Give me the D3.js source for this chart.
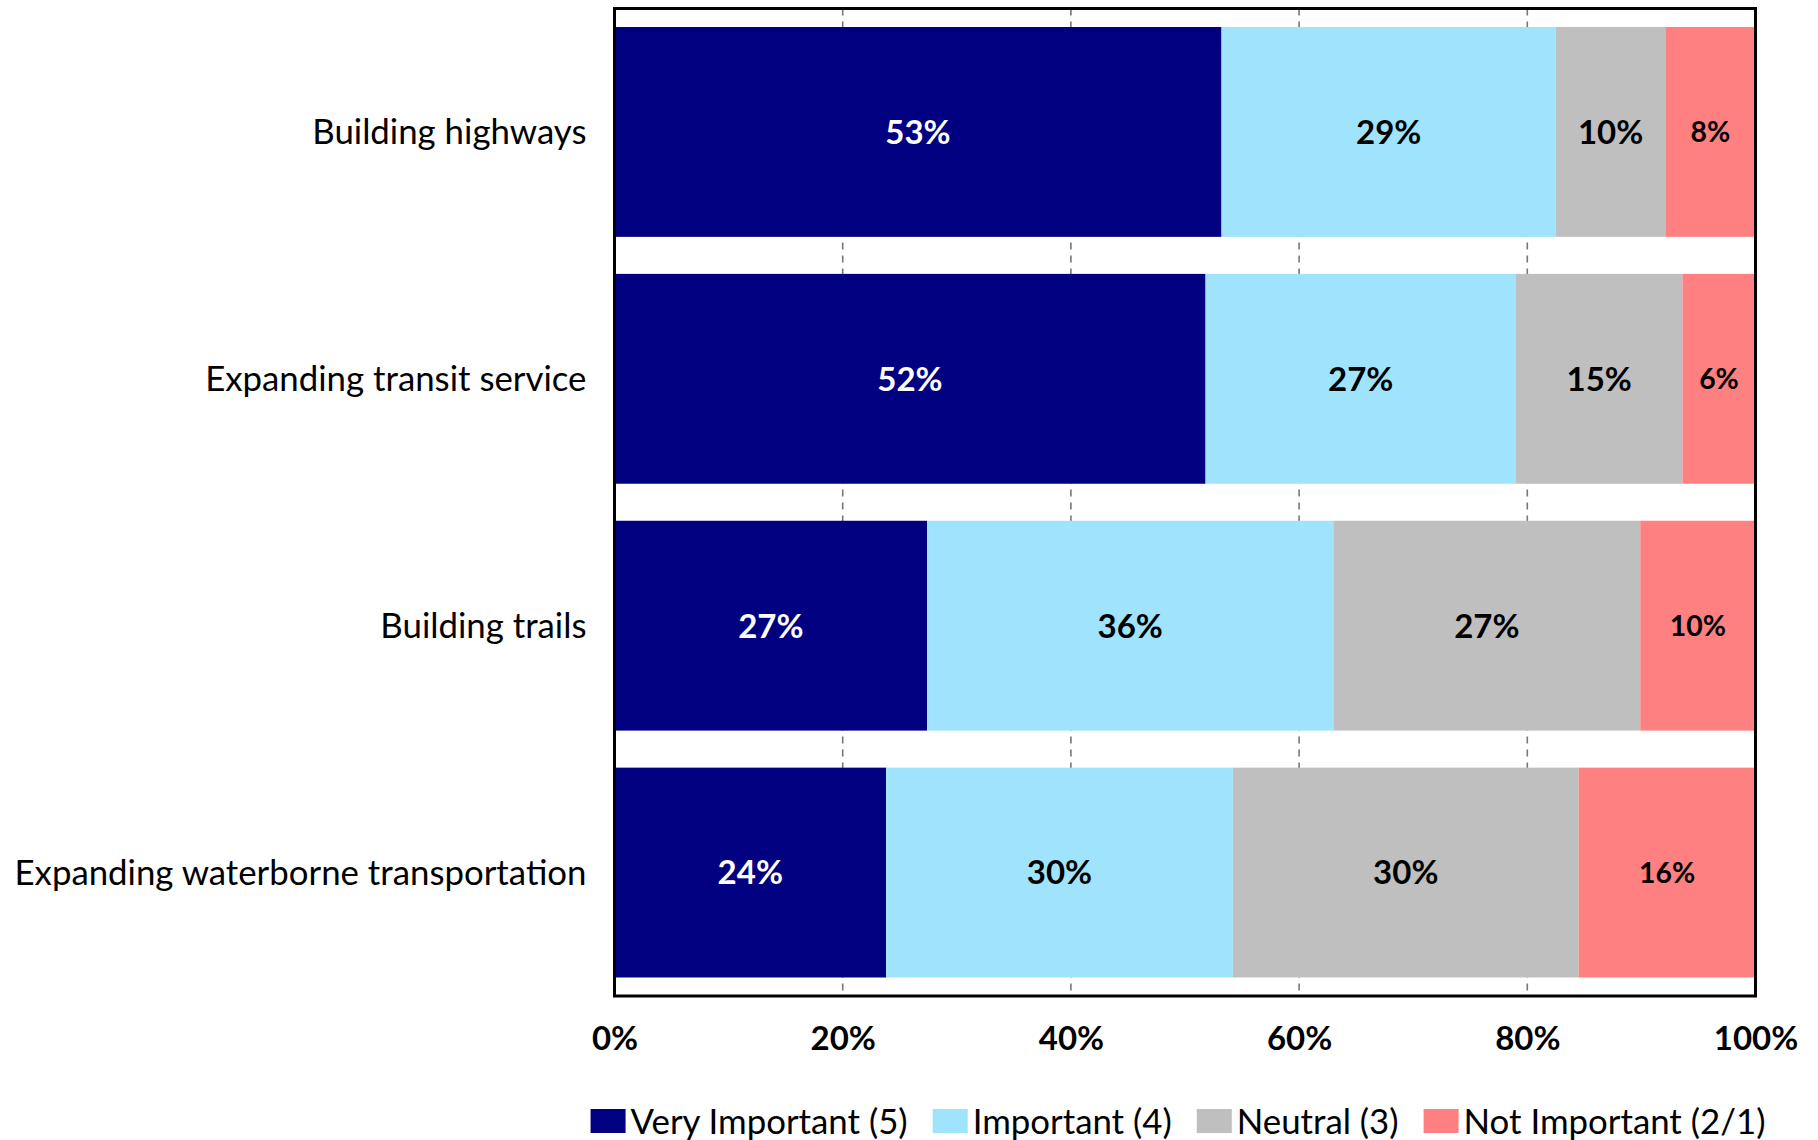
<!DOCTYPE html>
<html>
<head>
<meta charset="utf-8">
<script src="https://cdn.jsdelivr.net/npm/d3@7"></script>
<style>
    body { margin: 0; background: #fff; }
    text { font-family: Lato, "Open Sans", sans-serif; }
</style>
</head>
<body>
<div id="chart"></div>
<script>

var categories = ["Building highways", "Expanding transit service", "Building trails", "Expanding waterborne transportation"];
var seriesNames = ["Very Important (5)", "Important (4)", "Neutral (3)", "Not Important (2/1)"];

// percent per category
var veryImportant = [53.2, 51.8, 27.4, 23.8];
var important = [29.3, 27.2, 35.6, 30.4];
var neutral = [9.6, 14.6, 26.9, 30.3];
var notImportant = [7.9, 6.4, 10.1, 15.5];

var xTicks = [0, 20, 40, 60, 80, 100];
var colors = ["#000080", "#9fe4fc", "#bfbfbf", "#ff8080"];

var width = 1818, height = 1140;
var plot = {left: 614.5, right: 1755.5, top: 8.5, bottom: 996};
var fontSize = 33;      // bold numbers
var labelSize = 34.8;   // regular text

var rows = categories.map(function (c, i) {
    return {
        name: c,
        s0: veryImportant[i],
        s1: important[i],
        s2: neutral[i],
        s3: notImportant[i]
    };
});
var keys = ["s0", "s1", "s2", "s3"];

var stacked = d3.stack().keys(keys)(rows);

var xScale = d3.scaleLinear().domain([0, 100]).range([plot.left, plot.right]);
var yScale = d3.scaleBand()
    .domain(categories)
    .range([plot.top, plot.bottom])
    .paddingInner(0.15)
    .paddingOuter(0.075);

var svg = d3.select("#chart")
    .append("svg")
    .attr("width", width)
    .attr("height", height);

// dashed grid behind the bars
svg.append("g")
    .attr("class", "grid")
    .selectAll("line")
    .data(xTicks.slice(1, -1))
    .enter()
    .append("line")
    .attr("x1", function (d) { return xScale(d); })
    .attr("x2", function (d) { return xScale(d); })
    .attr("y1", plot.top)
    .attr("y2", plot.bottom)
    .attr("stroke", "#777")
    .attr("stroke-width", 1.6)
    .attr("stroke-dasharray", "7,6");

var layer = svg.selectAll("g.layer")
    .data(stacked)
    .enter()
    .append("g")
    .attr("class", "layer")
    .attr("fill", function (d, i) { return colors[i]; });

layer.selectAll("rect")
    .data(function (d) { return d; })
    .enter()
    .append("rect")
    .attr("x", function (d) { return xScale(d[0]); })
    .attr("y", function (d) { return yScale(d.data.name); })
    .attr("width", function (d) { return xScale(d[1]) - xScale(d[0]); })
    .attr("height", yScale.bandwidth());

// value labels
stacked.forEach(function (s, i) {
    svg.append("g")
        .selectAll("text")
        .data(s)
        .enter()
        .append("text")
        .attr("x", function (d) { return (xScale(d[0]) + xScale(d[1])) / 2; })
        .attr("y", function (d) { return yScale(d.data.name) + yScale.bandwidth() / 2; })
        .attr("dy", "0.36em")
        .attr("text-anchor", "middle")
        .style("font-weight", "bold")
        .style("font-size", (i === 3 ? fontSize * 0.86 : fontSize) + "px")
        .attr("fill", i === 0 ? "#fff" : "#000")
        .text(function (d) { return Math.round(d[1] - d[0]) + "%"; });
});

// category labels
svg.append("g")
    .selectAll("text")
    .data(categories)
    .enter()
    .append("text")
    .attr("x", plot.left - 28)
    .attr("y", function (d) { return yScale(d) + yScale.bandwidth() / 2; })
    .attr("dy", "0.36em")
    .attr("text-anchor", "end")
    .style("font-size", labelSize + "px")
    .attr("fill", "#000")
    .text(function (d) { return d; });

// x axis labels
var xAxis = d3.axisBottom(xScale)
    .tickValues(xTicks)
    .tickSize(0)
    .tickPadding(0)
    .tickFormat(function (d) { return d + "%"; });

var xAxisG = svg.append("g")
    .attr("class", "x axis")
    .attr("transform", "translate(0," + 1038 + ")")
    .call(xAxis);

xAxisG.select("path.domain").remove();
xAxisG.selectAll("text")
    .attr("y", 0)
    .attr("dy", "0.36em")
    .style("font-family", "Lato, sans-serif")
    .style("font-size", fontSize + "px")
    .style("font-weight", "bold")
    .attr("fill", "#000");

// plot frame
svg.append("rect")
    .attr("x", plot.left)
    .attr("y", plot.top)
    .attr("width", plot.right - plot.left)
    .attr("height", plot.bottom - plot.top)
    .attr("fill", "none")
    .attr("stroke", "#000")
    .attr("stroke-width", 3);

// legend, laid out from measured text widths
var legend = svg.append("g").attr("class", "legend");
var legendY = 1121;
var sw = 35, sh = 24, textGap = 5, itemGap = 25;
var cursor = 0;
seriesNames.forEach(function (name, i) {
    var item = legend.append("g");
    item.append("rect")
        .attr("x", cursor)
        .attr("y", legendY - sh / 2)
        .attr("width", sw)
        .attr("height", sh)
        .attr("fill", colors[i]);
    var t = item.append("text")
        .attr("x", cursor + sw + textGap)
        .attr("y", legendY)
        .attr("dy", "0.36em")
        .style("font-size", labelSize + "px")
        .attr("fill", "#000")
        .text(name);
    cursor += sw + textGap + t.node().getComputedTextLength() + itemGap;
});
var legendWidth = cursor - itemGap;
legend.attr("transform", "translate(" + (1178 - legendWidth / 2) + ",0)");

</script>
</body>
</html>
